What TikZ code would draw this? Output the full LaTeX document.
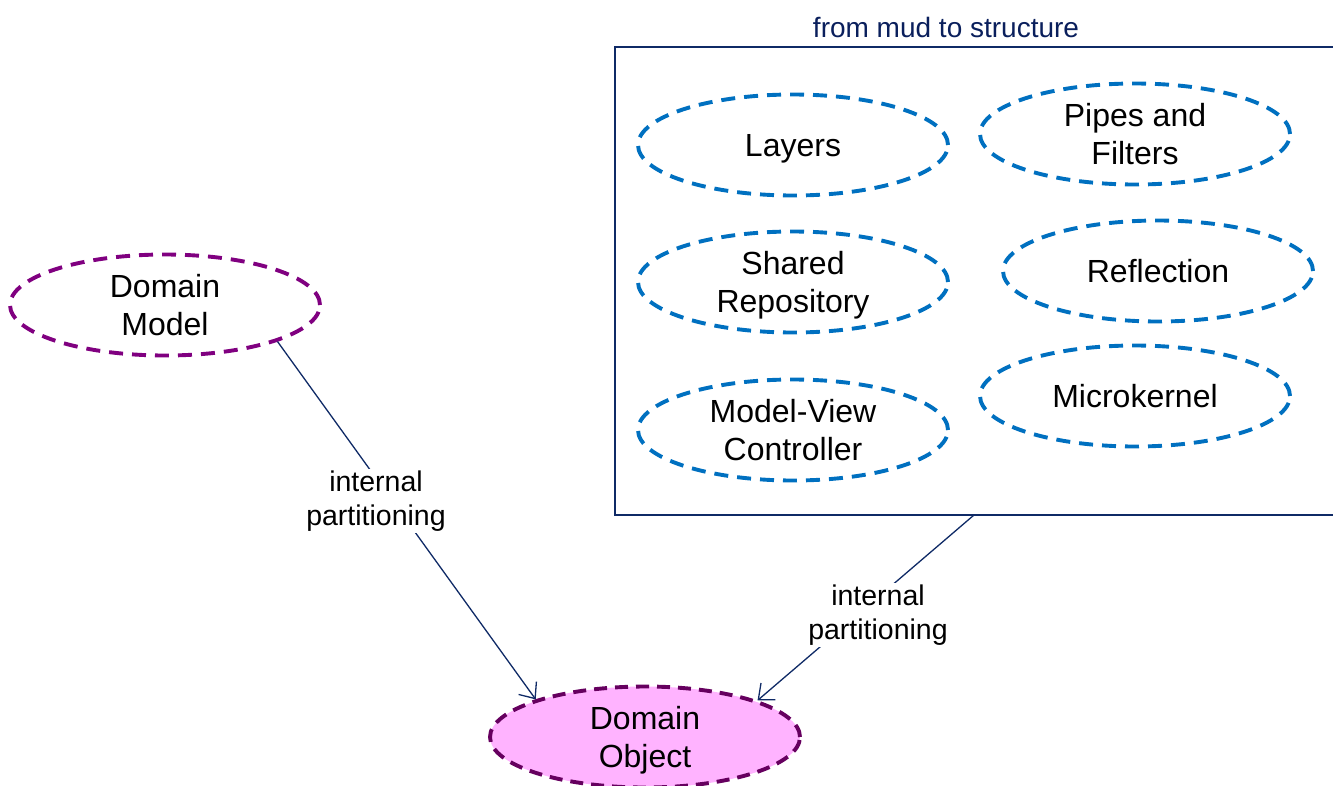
\documentclass[tikz,border=0pt]{standalone}
\usepackage{fontspec}
\setmainfont{Liberation Sans}
\usetikzlibrary{shapes.geometric,arrows.meta}
\definecolor{navy}{HTML}{0F2A66}
\definecolor{titlenavy}{HTML}{0A1F5C}
\definecolor{patblue}{HTML}{0070C0}
\definecolor{modelpurple}{HTML}{800080}
\definecolor{objpurple}{HTML}{66005F}
\definecolor{objfill}{HTML}{FFB3FF}
\tikzset{
  oval/.style={ellipse, minimum width=310pt, minimum height=101pt, inner sep=0pt,
    align=center, font=\fontsize{32}{38}\selectfont, line width=3.9pt,
    dash pattern=on 14pt off 9pt},
  pattern/.style={oval, draw=patblue},
  model/.style={oval, draw=modelpurple},
  object/.style={oval, draw=objpurple, fill=objfill, dash pattern=on 13pt off 8pt},
  link/.style={draw=navy, line width=1.3pt,
    -{Straight Barb[length=13pt,width=22pt,line width=1.3pt]}},
  linklabel/.style={fill=white, align=center, inner sep=2pt,
    font=\fontsize{28.5}{34}\selectfont},
  group/.style={draw=navy, line width=1.5pt}
}
\begin{document}
\begin{tikzpicture}[x=1pt,y=-1pt]
\useasboundingbox (0,0) rectangle (1333,785);
\clip (0,0) rectangle (1333,785);

% group frame with its caption
\draw[group] (615,47) rectangle (1345,515);
\coordinate (boxsouth) at (974,515);
\node[text=titlenavy, font=\fontsize{28}{34}\selectfont] (title) at (946,27) {from mud to structure};

% architectural patterns
\node[pattern, text depth=0pt] (layers) at (793,145) {Layers};
\node[pattern] (pipes) at (1135,134) {Pipes and\\Filters};
\node[pattern, text depth=0pt] (repo) at (793,282) {Shared\\Repository};
\node[pattern] (refl) at (1158,271) {Reflection};
\node[pattern] (mvc) at (793,430) {Model-View\\Controller};
\node[pattern] (micro) at (1135,396) {Microkernel};

% domain nodes
\node[model] (dmodel) at (165,305) {Domain\\Model};
\node[object, text depth=0pt] (dobject) at (645,737) {Domain\\Object};

% connectors
\draw[link] (dmodel.-18) -- (dobject.161.3);
\draw[link] (boxsouth) -- (dobject.18.6);

\node[linklabel] (lab1) at (376,501) {internal\\partitioning};
\node[linklabel] (lab2) at (878,615) {internal\\partitioning};
\end{tikzpicture}
\end{document}
